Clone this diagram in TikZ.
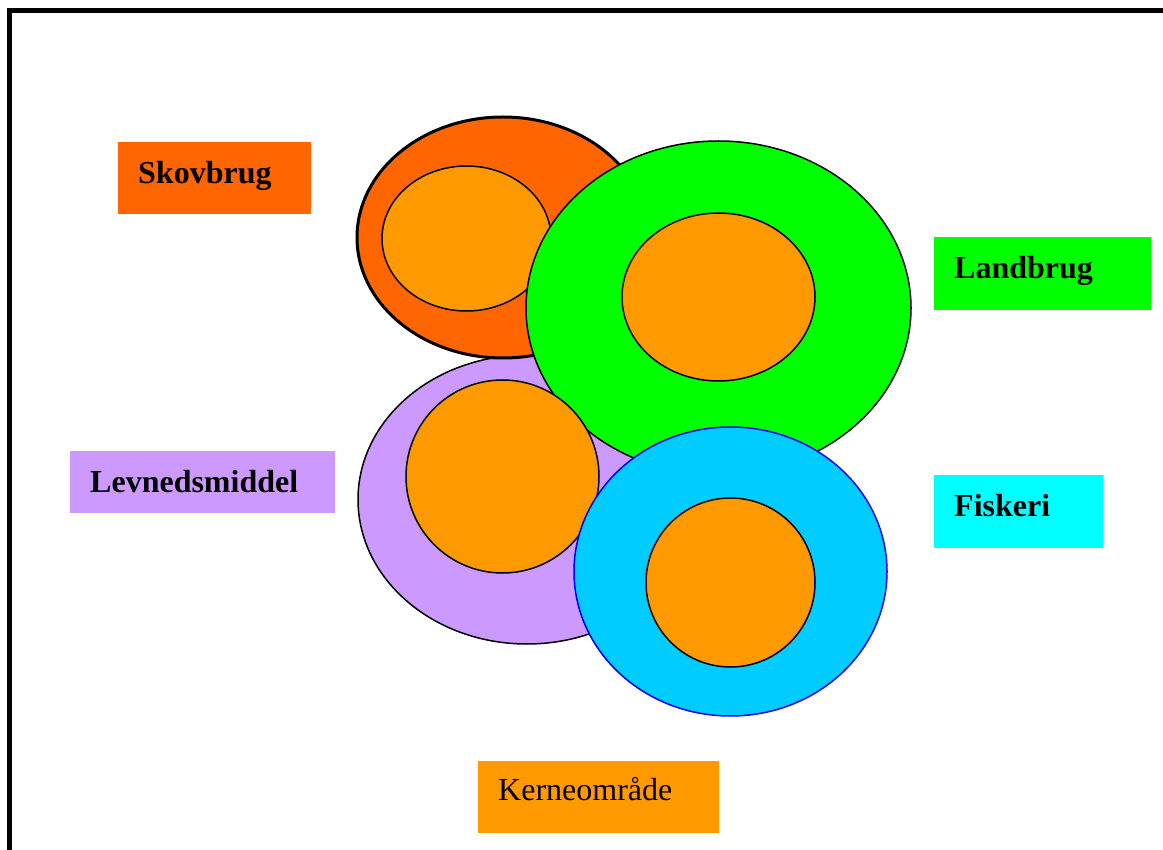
\documentclass[tikz,border=0pt]{standalone}
\usepackage{fontspec}
\setmainfont{Liberation Serif}
\definecolor{skovorange}{HTML}{FF6600}
\definecolor{landgroen}{HTML}{00FF00}
\definecolor{levnedlilla}{HTML}{CC99FF}
\definecolor{fiskeblaa}{HTML}{00CCFF}
\definecolor{fiskecyan}{HTML}{00FFFF}
\definecolor{kerneorange}{HTML}{FF9900}
\begin{document}
\begin{tikzpicture}[x=1pt,y=-1pt,
    omraade/.style={draw=black,line width=1.5pt},
    kerne/.style={omraade,fill=kerneorange},
    tekstboks/.style={anchor=north west,inner xsep=20pt,inner ysep=0pt,
      text height=41pt,align=left,font=\fontsize{32}{36}\selectfont\bfseries}]
  \useasboundingbox (0,0) rectangle (1163,850);
  \fill[white] (0,0) rectangle (1163,850);
  % ramme
  \draw[line width=4.5pt] (1170,10.5) -- (9.5,10.5) -- (9.5,860);
  % omraader
  \draw[omraade,fill=levnedlilla] (527,499.5) ellipse [x radius=169pt,y radius=144.5pt];
  \draw[omraade,fill=skovorange,line width=3pt] (503,237.5) ellipse [x radius=146pt,y radius=120.5pt];
  \draw[kerne] (466.5,238.5) ellipse [x radius=84.5pt,y radius=72.5pt];
  \draw[omraade,fill=landgroen] (718.5,308) ellipse [x radius=192.5pt,y radius=167pt];
  \draw[kerne] (718.5,297) ellipse [x radius=96.5pt,y radius=84pt];
  \draw[kerne] (502.5,476.5) circle [radius=96.5pt];
  \draw[omraade,draw=blue,fill=fiskeblaa] (730.5,571.5) ellipse [x radius=156.5pt,y radius=144.5pt];
  \draw[kerne] (730.5,582.5) circle [radius=84.5pt];
  % forklaring
  \node[tekstboks,fill=skovorange,text width=153pt,text depth=31pt] (skovbrug) at (118,142) {Skovbrug};
  \node[tekstboks,fill=landgroen,text width=177pt,text depth=32pt] (landbrug) at (934,237) {Landbrug};
  \node[tekstboks,fill=levnedlilla,text width=225pt,text depth=21pt] (levnedsmiddel) at (70,451) {Levnedsmiddel};
  \node[tekstboks,fill=fiskecyan,text width=129pt,text depth=32pt] (fiskeri) at (934,475) {Fiskeri};
  \node[tekstboks,fill=kerneorange,text width=201pt,text height=39pt,text depth=33pt,
    font=\fontsize{32}{36}\selectfont] (kerneomraade) at (478,761) {Kerneområde};
\end{tikzpicture}
\end{document}
